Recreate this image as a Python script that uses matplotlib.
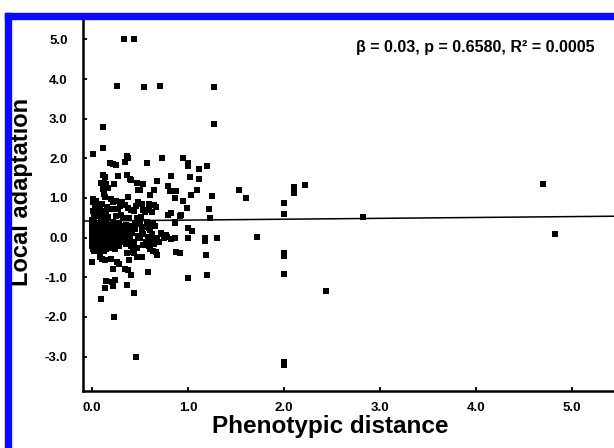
import matplotlib
matplotlib.use("Agg")
import matplotlib.pyplot as plt
from matplotlib.patches import Rectangle

plt.rcParams['font.family'] = ['Liberation Sans', 'DejaVu Sans']

# scattered / outlying points (phenotypic distance, local adaptation)
outer_pts = [
    (0.33, 5.0), (0.44, 5.0), (0.26, 3.82), (0.54, 3.8), (0.71, 3.82), (1.27, 3.8),
    (0.11, 2.79), (1.27, 2.87), (0.11, 2.25), (0.01, 2.10),
    (0.34, 1.91), (0.36, 2.05), (0.38, 2.0), (0.57, 1.89), (0.73, 2.0),
    (0.95, 2.0), (1.0, 1.88), (1.0, 1.80), (1.12, 1.72), (1.20, 1.80),
    (0.19, 1.88), (0.22, 1.85), (0.25, 1.83),
    (0.11, 1.57), (0.14, 1.53), (0.09, 1.38), (0.13, 1.38), (0.15, 1.34),
    (0.23, 1.34), (0.27, 1.56), (0.36, 1.57), (0.40, 1.49), (0.41, 1.45),
    (0.47, 1.38), (0.53, 1.35), (0.68, 1.42), (0.48, 1.21), (0.50, 1.19),
    (0.60, 1.07), (0.65, 1.21), (0.38, 1.03), (0.12, 1.11), (0.14, 1.03),
    (0.11, 1.22), (0.17, 1.25),
    (0.82, 1.56), (1.02, 1.53), (1.12, 1.47), (0.79, 1.30), (0.81, 1.17),
    (0.88, 1.17), (0.87, 1.0), (1.09, 1.21), (1.03, 1.07), (0.95, 0.92),
    (1.25, 1.05), (0.99, 0.75), (0.82, 0.63), (0.93, 0.58), (1.22, 0.73),
    (1.23, 0.50), (1.53, 1.19), (1.60, 0.99),
    (2.11, 1.28), (2.22, 1.32), (2.10, 1.13), (2.0, 0.87), (2.0, 0.60),
    (2.82, 0.52), (1.72, 0.02), (2.0, -0.40), (2.0, -0.47), (2.0, -0.91),
    (2.44, -1.35), (2.0, -3.14), (2.0, -3.21), (4.70, 1.36), (4.82, 0.08),
    (0.86, 0.39), (0.79, 0.56), (0.92, 0.55), (1.0, 0.24), (1.04, 0.16),
    (0.78, 0.02), (0.82, -0.03), (0.86, 0.0), (1.0, -0.01), (1.18, -0.01),
    (1.18, -0.08), (1.30, -0.01), (0.88, -0.36), (0.92, -0.39), (1.19, -0.43),
    (1.0, -1.02), (1.20, -0.95), (0.72, 0.10), (0.77, 0.06), (0.66, -0.07),
    (0.67, -0.36), (0.68, -0.43), (0.64, 0.35), (0.59, 0.23), (0.67, 0.77),
    (0.59, 0.85), (0.65, 0.82), (0.86, 0.37),
    (0.0, -0.62), (0.09, -1.54), (0.23, -2.0), (0.46, -3.0), (0.44, -1.39),
    (0.15, -1.10), (0.14, -1.28), (0.21, -1.12), (0.24, -1.08), (0.22, -1.22),
    (0.36, -1.2), (0.22, -0.78), (0.34, -0.78), (0.38, -0.81), (0.41, -0.95),
    (0.58, -0.88), (0.28, -0.66), (0.39, -0.57), (0.20, -0.55), (0.08, -0.49),
    (0.14, -0.57), (0.47, -0.49), (0.52, -0.49), (0.36, -0.40), (0.44, -0.39),
    (0.10, -0.53), (0.26, -0.62), (0.43, -0.36), (0.60, -0.28), (0.64, -0.35),
]

# points just above the fitted line, dense left part
upper_pts = [
    (0.01, 0.98), (0.04, 0.92), (0.01, 0.89), (0.06, 0.85), (0.03, 0.78),
    (0.08, 0.77), (0.20, 0.98), (0.22, 0.90), (0.19, 0.73), (0.22, 0.71),
    (0.31, 0.90), (0.34, 0.82), (0.41, 0.69), (0.44, 0.67), (0.48, 0.90),
    (0.52, 0.84), (0.53, 0.69), (0.55, 0.65), (0.59, 0.69), (0.63, 0.65),
    (0.01, 0.67), (0.04, 0.58), (0.02, 0.52), (0.08, 0.55), (0.12, 0.49),
    (0.15, 0.58), (0.25, 0.55), (0.32, 0.49), (0.39, 0.49), (0.47, 0.49),
    (0.51, 0.52), (0.00, 0.45), (0.06, 0.62), (0.09, 0.47), (0.13, 0.66),
    (0.17, 0.52), (0.27, 0.72), (0.30, 0.58), (0.38, 0.75), (0.46, 0.80),
    (0.05, 0.72), (0.10, 0.85), (0.16, 0.78), (0.25, 0.92), (0.29, 0.80),
]

# dense core around zero
core_pts = [
    (0.01, 0.38), (0.05, 0.36), (0.09, 0.39), (0.15, 0.37), (0.22, 0.40), (0.28, 0.36),
    (0.00, 0.30), (0.03, 0.28), (0.07, 0.31), (0.12, 0.29), (0.18, 0.32), (0.25, 0.28), (0.31, 0.30),
    (0.01, 0.22), (0.04, 0.24), (0.08, 0.21), (0.11, 0.23), (0.16, 0.20), (0.20, 0.24), (0.27, 0.22), (0.33, 0.21),
    (0.00, 0.15), (0.02, 0.13), (0.06, 0.16), (0.10, 0.14), (0.13, 0.17), (0.19, 0.15), (0.23, 0.13), (0.29, 0.16), (0.35, 0.14),
    (0.01, 0.08), (0.04, 0.06), (0.07, 0.09), (0.12, 0.07), (0.15, 0.10), (0.18, 0.06), (0.21, 0.09), (0.26, 0.07), (0.30, 0.10), (0.34, 0.06),
    (0.00, 0.02), (0.03, 0.00), (0.05, 0.03), (0.09, 0.01), (0.11, 0.04), (0.14, 0.00), (0.17, 0.03), (0.22, 0.01), (0.25, 0.04), (0.28, 0.00), (0.32, 0.03), (0.37, 0.01),
    (0.01, -0.04), (0.04, -0.06), (0.08, -0.03), (0.10, -0.05), (0.13, -0.02), (0.16, -0.06), (0.20, -0.04), (0.24, -0.03), (0.27, -0.06), (0.31, -0.04), (0.36, -0.05), (0.40, -0.03),
    (0.00, -0.10), (0.02, -0.12), (0.06, -0.09), (0.09, -0.11), (0.12, -0.08), (0.15, -0.12), (0.19, -0.10), (0.23, -0.09), (0.29, -0.11), (0.33, -0.09), (0.38, -0.12),
    (0.01, -0.16), (0.03, -0.18), (0.07, -0.15), (0.11, -0.17), (0.14, -0.14), (0.18, -0.18), (0.22, -0.16), (0.26, -0.15), (0.35, -0.17),
    (0.00, -0.22), (0.04, -0.24), (0.08, -0.21), (0.12, -0.23), (0.17, -0.22), (0.21, -0.25), (0.28, -0.21),
    (0.01, -0.28), (0.05, -0.30), (0.10, -0.27), (0.15, -0.29), (0.24, -0.28),
    (0.02, -0.34), (0.06, -0.33), (0.13, -0.35),
    (0.40, 0.30), (0.45, 0.22), (0.50, 0.35), (0.55, 0.28), (0.60, 0.20), (0.42, 0.12),
    (0.48, 0.05), (0.53, 0.10), (0.58, 0.02), (0.63, 0.08), (0.38, -0.05), (0.44, -0.10),
    (0.50, -0.02), (0.56, -0.12), (0.62, -0.06), (0.68, 0.00), (0.41, -0.20), (0.47, -0.25),
    (0.53, -0.18), (0.59, -0.22), (0.65, -0.15), (0.70, -0.10), (0.45, 0.38), (0.52, 0.18),
    (0.57, 0.40), (0.66, 0.30), (0.72, 0.12), (0.75, -0.02), (0.39, 0.20), (0.35, 0.33),
]

all_pts = outer_pts + upper_pts + core_pts
xs = [p[0] for p in all_pts]
ys = [p[1] for p in all_pts]

# fitted line: intercept and slope
fit_intercept = 0.42
fit_slope = 0.022
fit_x = [-0.094, 5.44]
fit_y = [fit_intercept + fit_slope * v for v in fit_x]

tick_vals = [0, 1, 2, 3, 4, 5]
ytick_vals = [-3, -2, -1, 0, 1, 2, 3, 4, 5]

fig = plt.figure(figsize=(6.14, 4.48), dpi=100)
ax = fig.add_axes([83 / 614, 1 - 391 / 448, 1 - 83 / 614, (391 - 20) / 448])

ax.scatter(xs, ys, marker='s', s=14, color='black', linewidths=0, zorder=3)
ax.plot(fit_x, fit_y, color='black', lw=1.1, zorder=2)

ax.set_xlim(-0.094, 5.44)
ax.set_ylim(-3.87, 5.49)
ax.set_xticks(tick_vals)
ax.set_xticklabels([f"{v:.1f}" for v in tick_vals])
ax.set_yticks(ytick_vals)
ax.set_yticklabels([f"{v:.1f}" for v in ytick_vals])

for s in ['top', 'right']:
    ax.spines[s].set_visible(False)
for s in ['left', 'bottom']:
    ax.spines[s].set_linewidth(1.8)

ax.tick_params(direction='in', length=3, width=1.3, labelsize=9.5)
ax.tick_params(axis='y', pad=11)
ax.tick_params(axis='x', pad=8)
for lab in ax.get_xticklabels() + ax.get_yticklabels():
    lab.set_fontweight('bold')

ax.set_xlabel('Phenotypic distance', fontsize=17.5, fontweight='bold')
ax.set_ylabel('Local adaptation', fontsize=17, fontweight='bold')
ax.xaxis.set_label_coords(0.465, -0.065)
ax.yaxis.set_label_coords(-0.094, 0.536)

ax.text(0.964, 0.945, 'β = 0.03, p = 0.6580, R² = 0.0005',
        transform=ax.transAxes, ha='right', va='top', fontsize=11.5,
        fontweight='bold')

# blue frame along the left and top edge
blue = '#0a0aff'
fig.patches.append(Rectangle((5 / 614, 0), 6 / 614, 1 - 13 / 448,
                             transform=fig.transFigure, color=blue))
fig.patches.append(Rectangle((5 / 614, 1 - 19 / 448), 1, 6 / 448,
                             transform=fig.transFigure, color=blue))

fig.savefig('out.png', dpi=100)
